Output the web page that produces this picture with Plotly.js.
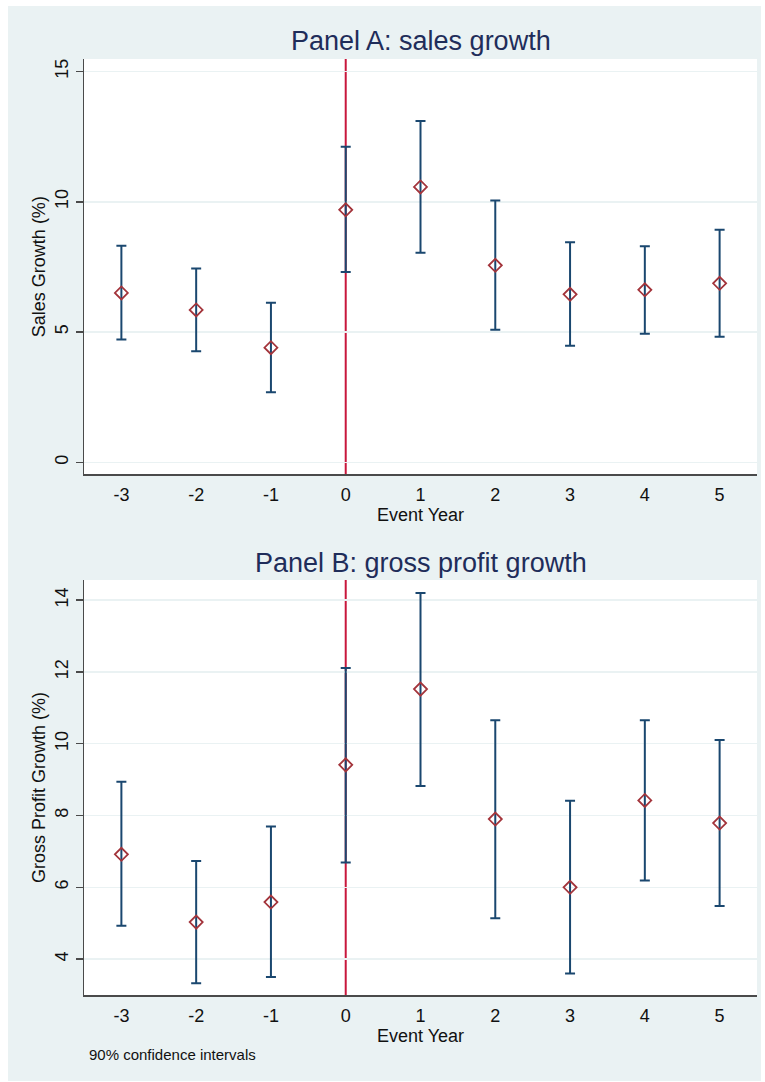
<!DOCTYPE html>
<html>
<head>
<meta charset="utf-8">
<script src="https://cdn.plot.ly/plotly-3.0.1.min.js"></script>
<style>
  html, body { margin: 0; padding: 0; background: #ffffff; width: 765px; height: 1082px; overflow: hidden; }
  #chart { position: absolute; left: 8px; top: 6px; width: 753px; height: 1075px; }
</style>
</head>
<body>
<div id="chart"></div>
<script>
// Event years
const eventYears = [-3, -2, -1, 0, 1, 2, 3, 4, 5];

// Panel A: sales growth (%)
const salesCoef  = [6.50, 5.85, 4.40, 9.69, 10.57, 7.56, 6.45, 6.62, 6.87];
const salesUpper = [8.31, 7.44, 6.12, 12.11, 13.10, 10.05, 8.45, 8.29, 8.93];
const salesLower = [4.71, 4.26, 2.69, 7.30, 8.04, 5.09, 4.47, 4.93, 4.82];

// Panel B: gross profit growth (%)
const profitCoef  = [6.92, 5.03, 5.59, 9.41, 11.52, 7.90, 6.00, 8.42, 7.79];
const profitUpper = [8.94, 6.73, 7.69, 12.11, 14.20, 10.65, 8.41, 10.65, 10.10];
const profitLower = [4.93, 3.33, 3.50, 6.69, 8.82, 5.14, 3.60, 6.19, 5.48];

// Tick labels
const xTicks = [-3, -2, -1, 0, 1, 2, 3, 4, 5];
const xTickLabels = ['-3', '-2', '-1', '0', '1', '2', '3', '4', '5'];
const yTicksA = [0, 5, 10, 15];
const yTicksB = [4, 6, 8, 10, 12, 14];

const FONT = 'Liberation Sans, Arial, sans-serif';
const BG = '#EAF2F3';
const NAVY = '#1a476f';
const MAROON = '#a3343b';
const AXIS = '#4a4a4a';

function ciTrace(coef, up, lo, xa, ya) {
  return {
    type: 'scatter', mode: 'markers',
    x: eventYears, y: coef, xaxis: xa, yaxis: ya,
    marker: { symbol: 'diamond-open', size: 10, color: MAROON, line: { width: 1.8, color: MAROON } },
    error_y: {
      type: 'data', symmetric: false,
      array: up.map((u, i) => u - coef[i]),
      arrayminus: lo.map((l, i) => coef[i] - l),
      color: NAVY, thickness: 2, width: 5
    },
    hoverinfo: 'x+y', showlegend: false
  };
}

const data = [
  ciTrace(salesCoef, salesUpper, salesLower, 'x', 'y'),
  ciTrace(profitCoef, profitUpper, profitLower, 'x2', 'y2')
];

const xCommon = {
  range: [-3.5, 5.5], tickmode: 'array', tickvals: xTicks, ticktext: xTickLabels,
  ticks: 'outside', ticklen: 4, tickcolor: 'rgba(0,0,0,0)',
  showline: true, linecolor: AXIS, linewidth: 1.5,
  showgrid: false, zeroline: false,
  tickfont: { family: FONT, size: 18, color: '#111' },
  title: { text: 'Event Year', font: { family: FONT, size: 18, color: '#111' }, standoff: 2 }
};
const yCommon = {
  tickmode: 'array', tickangle: -90,
  ticks: 'outside', ticklen: 7, tickwidth: 1.5, tickcolor: AXIS,
  showline: true, linecolor: AXIS, linewidth: 1.5,
  showgrid: true, gridcolor: BG, gridwidth: 1.5, zeroline: false,
  tickfont: { family: FONT, size: 18, color: '#111' }
};

const layout = {
  width: 753, height: 1075,
  paper_bgcolor: BG, plot_bgcolor: '#ffffff',
  margin: { l: 76, r: 4, t: 53, b: 86 },
  font: { family: FONT },
  xaxis: Object.assign({}, xCommon, { anchor: 'y' }),
  xaxis2: Object.assign({}, xCommon, { anchor: 'y2' }),
  yaxis: Object.assign({}, yCommon, {
    domain: [0.5563, 1], range: [-0.46, 15.48], tickvals: yTicksA,
    title: { text: 'Sales Growth (%)', font: { family: FONT, size: 18, color: '#111' }, standoff: 2 }
  }),
  yaxis2: Object.assign({}, yCommon, {
    domain: [0, 0.4434], range: [3.0, 14.56], tickvals: yTicksB,
    title: { text: 'Gross Profit Growth (%)', font: { family: FONT, size: 18, color: '#111' }, standoff: 2 }
  }),
  shapes: [
    { type: 'line', xref: 'x', yref: 'y domain', x0: 0, x1: 0, y0: 0, y1: 1, layer: 'below',
      line: { color: '#c8173c', width: 2 } },
    { type: 'line', xref: 'x2', yref: 'y2 domain', x0: 0, x1: 0, y0: 0, y1: 1, layer: 'below',
      line: { color: '#c8173c', width: 2 } }
  ],
  annotations: [
    { text: 'Panel A: sales growth', xref: 'paper', yref: 'paper', x: 0.5, y: 1.0195,
      xanchor: 'center', yanchor: 'middle', showarrow: false,
      font: { family: FONT, size: 27, color: '#1f2d5a' } },
    { text: 'Panel B: gross profit growth', xref: 'paper', yref: 'paper', x: 0.5, y: 0.4618,
      xanchor: 'center', yanchor: 'middle', showarrow: false,
      font: { family: FONT, size: 27, color: '#1f2d5a' } },
    { text: '90% confidence intervals', xref: 'paper', yref: 'paper', x: 0.0049, y: -0.0641,
      xanchor: 'left', yanchor: 'middle', showarrow: false,
      font: { family: FONT, size: 15, color: '#111' } }
  ]
};

Plotly.newPlot('chart', data, layout, { displayModeBar: false, staticPlot: true });
</script>
</body>
</html>
